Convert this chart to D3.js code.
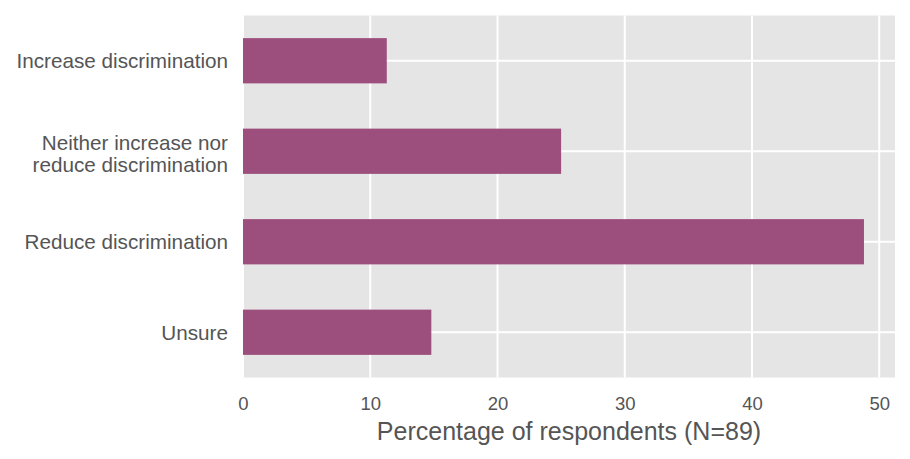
<!DOCTYPE html>
<html>
<head>
<meta charset="utf-8">
<script src="https://cdn.jsdelivr.net/npm/d3@7"></script>
<style>
  body { margin: 0; background: #fff; }
  svg { display: block; }
  text { font-family: "Liberation Sans", Arial, Helvetica, sans-serif; fill: #555555; }
</style>
</head>
<body>
<svg id="chart" width="910" height="459"></svg>
<script>
const categories = [
  ["Increase discrimination"],
  ["Neither increase nor", "reduce discrimination"],
  ["Reduce discrimination"],
  ["Unsure"]
];
const values = [11.3, 25.0, 48.8, 14.8];
const xTicks = [0, 10, 20, 30, 40, 50];
const xLabel = "Percentage of respondents (N=89)";

const svg = d3.select("#chart");
const plotLeft = 243, plotRight = 895, plotTop = 15.5, plotBottom = 377.5;

const x = d3.scaleLinear()
  .domain([0, d3.max(values) * 1.05])
  .range([plotLeft, plotRight]);

const keys = categories.map(c => c.join(" "));
const y = d3.scaleBand()
  .domain(keys)
  .range([plotTop, plotBottom])
  .paddingInner(0.5)
  .paddingOuter(0.25);

// background
svg.append("rect")
  .attr("x", plotLeft).attr("y", plotTop)
  .attr("width", plotRight - plotLeft).attr("height", plotBottom - plotTop)
  .attr("fill", "#E5E5E5");

// grid
svg.append("g").selectAll("line").data(xTicks).join("line")
  .attr("x1", d => x(d)).attr("x2", d => x(d))
  .attr("y1", plotTop).attr("y2", plotBottom)
  .attr("stroke", "#fff").attr("stroke-width", 2);
svg.append("g").selectAll("line").data(keys).join("line")
  .attr("x1", plotLeft).attr("x2", plotRight)
  .attr("y1", d => y(d) + y.bandwidth() / 2).attr("y2", d => y(d) + y.bandwidth() / 2)
  .attr("stroke", "#fff").attr("stroke-width", 2);

// bars
svg.append("g").selectAll("rect").data(values).join("rect")
  .attr("x", x(0))
  .attr("y", (d, i) => y(keys[i]))
  .attr("width", d => x(d) - x(0))
  .attr("height", y.bandwidth())
  .attr("fill", "#9C4E7C");

// x axis
const xAxis = d3.axisBottom(x).tickValues(xTicks).tickSize(0).tickPadding(0);
const gx = svg.append("g").attr("transform", `translate(0,${plotBottom})`).call(xAxis);
gx.select(".domain").remove();
gx.selectAll("text")
  .attr("dy", null)
  .attr("y", 32)
  .style("font-size", "18.5px")
  .style("fill", "#555555")
  .style("font-family", '"Liberation Sans", Arial, sans-serif');

// y axis
const yAxis = d3.axisLeft(y).tickSize(0).tickPadding(0).tickFormat(() => "");
const gy = svg.append("g").attr("transform", `translate(${plotLeft},0)`).call(yAxis);
gy.select(".domain").remove();
gy.selectAll(".tick").each(function(d, i) {
  const lines = categories[i];
  const t = d3.select(this).select("text")
    .attr("x", -15).attr("dy", null)
    .attr("text-anchor", "end")
    .style("font-size", "20.7px")
    .style("fill", "#555555")
    .style("font-family", '"Liberation Sans", Arial, sans-serif');
  const n = lines.length;
  lines.forEach((ln, j) => {
    const off = n === 1 ? 7.4 : (j === 0 ? -1 : 20.7);
    t.append("tspan").attr("x", -15).attr("y", off).text(ln);
  });
});

// x label
svg.append("text")
  .attr("x", (plotLeft + plotRight) / 2)
  .attr("y", 440)
  .attr("text-anchor", "middle")
  .style("font-size", "25px")
  .text(xLabel);
</script>
</body>
</html>
